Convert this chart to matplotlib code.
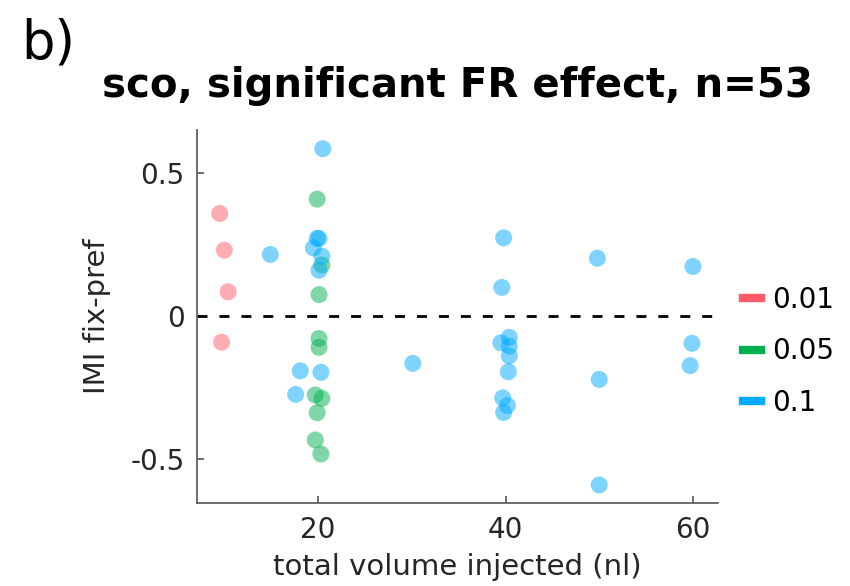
import numpy as np
from matplotlib import pyplot as plt
from matplotlib.lines import Line2D

# values
red_x = [9.5, 10.0, 10.4, 9.7]
red_y = [0.358, 0.230, 0.085, -0.091]

green_x = [19.9, 20.4, 20.1, 20.1, 20.1, 19.7, 20.4, 19.9, 19.7, 20.3]
green_y = [0.408, 0.178, 0.075, -0.078, -0.109, -0.275, -0.287, -0.337, -0.432, -0.481]

blue_x = [20.5, 19.9, 20.1, 19.5, 20.4, 20.1, 14.9, 18.1, 20.3, 17.6,
          30.1, 39.8, 39.6, 39.5, 40.4, 40.4, 40.4, 40.3, 39.7, 40.2, 39.8,
          49.8, 50.0, 50.0, 60.0, 59.9, 59.7]
blue_y = [0.584, 0.271, 0.271, 0.238, 0.209, 0.160, 0.215, -0.191, -0.196, -0.273,
          -0.165, 0.273, 0.100, -0.093, -0.074, -0.105, -0.139, -0.194, -0.285, -0.312, -0.336,
          0.202, -0.221, -0.589, 0.173, -0.095, -0.173]

levels = ["0.01", "0.05", "0.1"]
colors = ["#FF5A66", "#00B050", "#00AAFF"]

plt.rcParams['font.family'] = 'DejaVu Sans'

fig = plt.figure(figsize=(8.5, 5.86), dpi=100)
ax = fig.add_axes([0.232, 0.1416, 0.613, 0.636])

for xs, ys, c in zip([red_x, green_x, blue_x], [red_y, green_y, blue_y], colors):
    ax.scatter(xs, ys, s=150, color=c, alpha=0.5, edgecolors='none', zorder=3)

ax.axhline(0, color='black', lw=2, linestyle=(0, (3.6, 4.3)), zorder=2)

ax.set_xlim(7.1, 62.7)
ax.set_ylim(-0.652, 0.648)
ax.set_xticks([20, 40, 60])
ax.set_yticks([-0.5, 0, 0.5])
ax.set_yticklabels(["-0.5", "0", "0.5"])

for side in ['top', 'right']:
    ax.spines[side].set_visible(False)
for side in ['left', 'bottom']:
    ax.spines[side].set_color('#555555')
    ax.spines[side].set_linewidth(1.2)
ax.tick_params(direction='in', length=5, width=1.2, color='#555555',
               labelsize=20, labelcolor='#262626', pad=9)

ax.set_xlabel("total volume injected (nl)", fontsize=21, color='#262626', labelpad=7)
ax.set_ylabel("IMI fix-pref", fontsize=21, color='#262626', labelpad=14)
ax.set_title("sco, significant FR effect, n=53", fontsize=29, fontweight='bold', pad=24)

handles = [Line2D([0], [0], color=c, lw=6) for c in colors]
ax.legend(handles, levels, loc='center left', bbox_to_anchor=(1.0, 0.407),
          frameon=False, fontsize=20, handlelength=0.65, handletextpad=0.4,
          labelspacing=0.85)

fig.text(0.025, 0.9, "b)", fontsize=38)

fig.savefig("out.png", dpi=100)
